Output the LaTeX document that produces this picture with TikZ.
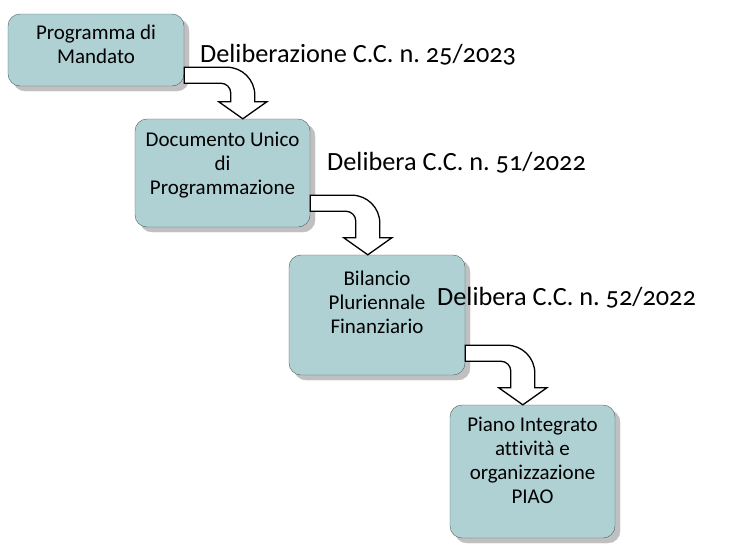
\documentclass[tikz,border=0pt]{standalone}
\usepackage{fontspec}
\setmainfont{Carlito}[Numbers=OldStyle,Ligatures=NoCommon]
\frenchspacing
\usetikzlibrary{calc,shadows}
\definecolor{boxfill}{RGB}{176,209,212}
\definecolor{boxline}{RGB}{78,92,94}
\definecolor{shadowgray}{RGB}{192,192,192}
\tikzset{
    stepbox/.style={draw=boxline,fill=boxfill,rounded corners=12pt,align=center,inner sep=0pt,
        font=\fontsize{21}{24}\selectfont,
        drop shadow={shadow xshift=5pt,shadow yshift=-5pt,draw=shadowgray,fill=shadowgray,opacity=1}},
    deliblabel/.style={anchor=base west,inner sep=0pt,font=\fontsize{26.3}{30}\selectfont},
    bentarrow/.style={draw=black,fill=white,line width=1.3pt,line join=miter}
}
% #1 from, #2 to, #3 height of the band above the bottom of #1, #4 tip from the left of #2
\newcommand{\flowarrow}[4]{%
    \draw[bentarrow] let \p1=($(#1.south east)+(0,-#3)$), \p2=($(#2.north west)+(#4,0)$) in
        (\x1,\y1) -- (\x2-16pt,\y1) arc[start angle=90,end angle=0,radius=28pt]
        -- (\x2+12pt,\y2+17pt) -- (\x2+24pt,\y2+17pt) -- (\x2,\y2) -- (\x2-24pt,\y2+17pt)
        -- (\x2-12pt,\y2+17pt) -- (\x2-12pt,\y1-26pt) arc[start angle=0,end angle=90,radius=10pt]
        -- (\x1,\y1-16pt) -- cycle;
}
\begin{document}
\begin{tikzpicture}[x=1pt,y=-1pt]
    \useasboundingbox (0,0) rectangle (751,549);

    \node[stepbox,minimum width=176pt,minimum height=72pt,text depth=12pt] (mandato) at (96,50) {Programma di\\Mandato};
    \node[stepbox,minimum width=175pt,minimum height=108pt,text depth=20pt] (dup) at (222.5,173) {Documento Unico\\di\\Programmazione};
    \node[stepbox,minimum width=176pt,minimum height=120pt,text depth=26pt] (bilancio) at (377,315) {Bilancio\\Pluriennale\\Finanziario};
    \node[stepbox,minimum width=165pt,minimum height=133pt,text depth=22pt] (piao) at (532.5,471.5) {Piano Integrato\\attività e\\organizzazione\\PIAO};

    \flowarrow{mandato}{dup}{19}{108}
    \flowarrow{dup}{bilancio}{32}{79}
    \flowarrow{bilancio}{piao}{30}{73}

    \node[deliblabel] (delib1) at (200,62) {Deliberazione C.C. n. 25/2023};
    \node[deliblabel] (delib2) at (327,170) {Delibera C.C. n. 51/2022};
    \node[deliblabel] (delib3) at (437,305) {Delibera C.C. n. 52/2022};
\end{tikzpicture}
\end{document}
